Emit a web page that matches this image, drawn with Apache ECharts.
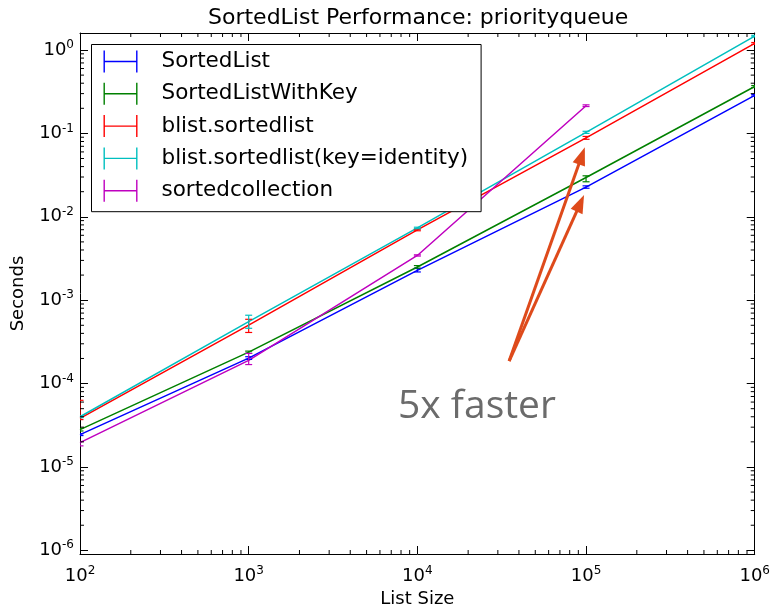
<!DOCTYPE html>
<html>
<head>
<meta charset="utf-8">
<script src="https://cdn.jsdelivr.net/npm/echarts@6/dist/echarts.min.js"></script>
<style>
html, body { margin: 0; padding: 0; background: #fff; }
#chart { width: 773px; height: 613px; }
</style>
</head>
<body>
<div id="chart"></div>
<script>
var sizes = [100, 1000, 10000, 100000, 1000000];

var sortedList     = [2.44e-5, 2.02e-4, 2.28e-3, 2.27e-2, 0.286];
var sortedListLo   = [2.38e-5, 1.95e-4, 2.18e-3, 2.20e-2, 0.280];
var sortedListHi   = [2.50e-5, 2.10e-4, 2.40e-3, 2.35e-2, 0.292];

var withKey        = [2.80e-5, 2.38e-4, 2.50e-3, 2.96e-2, 0.365];
var withKeyLo      = [2.70e-5, 2.30e-4, 2.42e-3, 2.63e-2, 0.355];
var withKeyHi      = [2.90e-5, 2.45e-4, 2.60e-3, 3.10e-2, 0.375];

var blist          = [3.82e-5, 5.03e-4, 6.96e-3, 8.86e-2, 1.20];
var blistLo        = [3.70e-5, 4.10e-4, 6.80e-3, 8.50e-2, 1.17];
var blistHi        = [6.30e-5, 5.90e-4, 7.10e-3, 9.20e-2, 1.23];

var blistKey       = [4.00e-5, 5.52e-4, 7.36e-3, 0.103, 1.47];
var blistKeyLo     = [3.90e-5, 4.60e-4, 7.20e-3, 0.100, 1.44];
var blistKeyHi     = [4.10e-5, 6.60e-4, 7.50e-3, 0.106, 1.50];

var collection     = [1.96e-5, 1.90e-4, 3.44e-3, 0.215];
var collectionLo   = [1.79e-5, 1.69e-4, 3.38e-3, 0.210];
var collectionHi   = [2.02e-5, 2.30e-4, 3.50e-3, 0.220];

var names  = ['SortedList', 'SortedListWithKey', 'blist.sortedlist', 'blist.sortedlist(key=identity)', 'sortedcollection'];
var colors = ['#0000ff', '#008000', '#ff0000', '#00bfbf', '#bf00bf'];

// axis ranges and minor tick multipliers
var xRange = [100, 1000000];
var yRange = [9.04e-7, 1.6];
var xDecades = [100, 1000, 10000, 100000];
var yDecades = [1e-6, 1e-5, 1e-4, 1e-3, 1e-2, 1e-1, 1];
var minorSteps = [2, 3, 4, 5, 6, 7, 8, 9];

// annotation arrows (data coords)
var arrowTail = [35000, 1.86e-4];
var arrowTips = [[94400, 0.0538], [92500, 0.01453]];

var font = 'DejaVu Sans';

function pairs(ys) {
  var out = [];
  for (var i = 0; i < ys.length; i++) out.push([sizes[i], ys[i]]);
  return out;
}
function triples(lo, hi) {
  var out = [];
  for (var i = 0; i < lo.length; i++) out.push([sizes[i], lo[i], hi[i]]);
  return out;
}

var minorX = [], minorY = [];
xDecades.forEach(function (d) { minorSteps.forEach(function (m) { minorX.push([d * m, 1e-3]); }); });
yDecades.forEach(function (d) {
  minorSteps.forEach(function (m) { if (d * m < yRange[1]) minorY.push([1000, d * m]); });
});

function powLabel(v) {
  var l = Math.log(v) / Math.LN10;
  var e = Math.round(l);
  if (Math.abs(l - e) > 1e-6) return '';
  return '{b|10}{s|' + e + '}';
}
var labelRich = {
  b: { fontSize: 18, fontFamily: font, color: '#000', lineHeight: 22 },
  s: { fontSize: 12, fontFamily: font, color: '#000', lineHeight: 12, verticalAlign: 'top' }
};

function errRender(params, api) {
  var x = api.value(0);
  var lo = api.coord([x, api.value(1)]);
  var hi = api.coord([x, api.value(2)]);
  var w = 3.5;
  var st = { stroke: api.visual('color'), lineWidth: 1.2 };
  return {
    type: 'group',
    children: [
      { type: 'line', shape: { x1: lo[0], y1: lo[1], x2: hi[0], y2: hi[1] }, style: st },
      { type: 'line', shape: { x1: lo[0] - w, y1: lo[1], x2: lo[0] + w, y2: lo[1] }, style: st },
      { type: 'line', shape: { x1: hi[0] - w, y1: hi[1], x2: hi[0] + w, y2: hi[1] }, style: st }
    ]
  };
}
function xMinorRender(params, api) {
  var cs = params.coordSys;
  var px = api.coord([api.value(0), api.value(1)])[0];
  var st = { stroke: '#000', lineWidth: 1 };
  return {
    type: 'group',
    children: [
      { type: 'line', shape: { x1: px, y1: cs.y + cs.height, x2: px, y2: cs.y + cs.height - 4 }, style: st },
      { type: 'line', shape: { x1: px, y1: cs.y, x2: px, y2: cs.y + 4 }, style: st }
    ]
  };
}
function yMinorRender(params, api) {
  var cs = params.coordSys;
  var py = api.coord([api.value(0), api.value(1)])[1];
  var st = { stroke: '#000', lineWidth: 1 };
  return {
    type: 'group',
    children: [
      { type: 'line', shape: { x1: cs.x, y1: py, x2: cs.x + 4, y2: py }, style: st },
      { type: 'line', shape: { x1: cs.x + cs.width, y1: py, x2: cs.x + cs.width - 4, y2: py }, style: st }
    ]
  };
}

var lines = [sortedList, withKey, blist, blistKey, collection];
var los = [sortedListLo, withKeyLo, blistLo, blistKeyLo, collectionLo];
var his = [sortedListHi, withKeyHi, blistHi, blistKeyHi, collectionHi];

var series = [];
for (var i = 0; i < names.length; i++) {
  series.push({
    name: names[i],
    type: 'line',
    data: pairs(lines[i]),
    symbol: 'none',
    color: colors[i],
    lineStyle: { width: 1.5, color: colors[i] },
    z: 3
  });
  series.push({
    name: names[i] + '-err',
    type: 'custom',
    data: triples(los[i], his[i]),
    renderItem: errRender,
    itemStyle: { color: colors[i] },
    clip: true,
    z: 4
  });
}
series.push({ type: 'custom', data: minorX, renderItem: xMinorRender, silent: true, z: 5 });
series.push({ type: 'custom', data: minorY, renderItem: yMinorRender, silent: true, z: 5 });
series.push({
  type: 'line',
  data: [],
  markLine: {
    silent: true,
    symbol: ['none', 'triangle'],
    symbolSize: [13, 18],
    label: { show: false },
    lineStyle: { color: '#de4a1b', width: 3, type: 'solid' },
    data: arrowTips.map(function (t) { return [{ coord: arrowTail }, { coord: t }]; })
  },
  z: 6
});

var axisCommon = {
  axisLine: { show: true, lineStyle: { color: '#000', width: 1 } },
  axisTick: { show: true, inside: true, length: 8, lineStyle: { color: '#000' } },
  splitLine: { show: false }
};

var option = {
  animation: false,
  backgroundColor: '#fff',
  title: {
    text: 'SortedList Performance: priorityqueue',
    left: 208,
    top: 7,
    padding: 0,
    textStyle: { fontFamily: font, fontSize: 22, fontWeight: 'normal', color: '#000' }
  },
  legend: {
    orient: 'vertical',
    left: 91.5,
    top: 44.5,
    padding: [6, 13, 10, 12],
    itemWidth: 34,
    itemHeight: 22,
    itemGap: 10.3,
    backgroundColor: '#fff',
    borderColor: '#000',
    borderWidth: 1,
    borderRadius: 0,
    data: names,
    icon: 'path://M0,0h1.4v22h-1.4z M0,10.3h34v1.4h-34z M32.6,0h1.4v22h-1.4z',
    textStyle: { fontFamily: font, fontSize: 21.5, color: '#000', lineHeight: 22, padding: [0, 0, 0, 19] },
    selectedMode: false
  },
  grid: { left: 80, right: 17, top: 33, bottom: 56 },
  xAxis: [
    Object.assign({
      type: 'log', logBase: 10, min: xRange[0], max: xRange[1], position: 'bottom',
      name: 'List Size', nameLocation: 'middle', nameGap: 36,
      nameTextStyle: { fontFamily: font, fontSize: 18, color: '#000' },
      axisLabel: { formatter: powLabel, rich: labelRich, margin: 11 }
    }, axisCommon),
    Object.assign({
      type: 'log', logBase: 10, min: xRange[0], max: xRange[1], position: 'top',
      axisLabel: { show: false }
    }, axisCommon)
  ],
  yAxis: [
    Object.assign({
      type: 'log', logBase: 10, min: yRange[0], max: yRange[1], position: 'left', splitNumber: 6,
      name: 'Seconds', nameLocation: 'middle', nameGap: 53,
      nameTextStyle: { fontFamily: font, fontSize: 18, color: '#000' },
      axisLabel: { formatter: powLabel, rich: labelRich, margin: 6 }
    }, axisCommon),
    Object.assign({
      type: 'log', logBase: 10, min: yRange[0], max: yRange[1], position: 'right', splitNumber: 6,
      axisLabel: { show: false }
    }, axisCommon)
  ],
  graphic: [{
    type: 'text',
    left: 398,
    top: 387,
    z: 10,
    style: { text: '5x faster', fontFamily: 'Open Sans', fontSize: 39, fill: '#6b6b6b' }
  }],
  series: series
};

var chart = echarts.init(document.getElementById('chart'));
chart.setOption(option);
</script>
</body>
</html>
